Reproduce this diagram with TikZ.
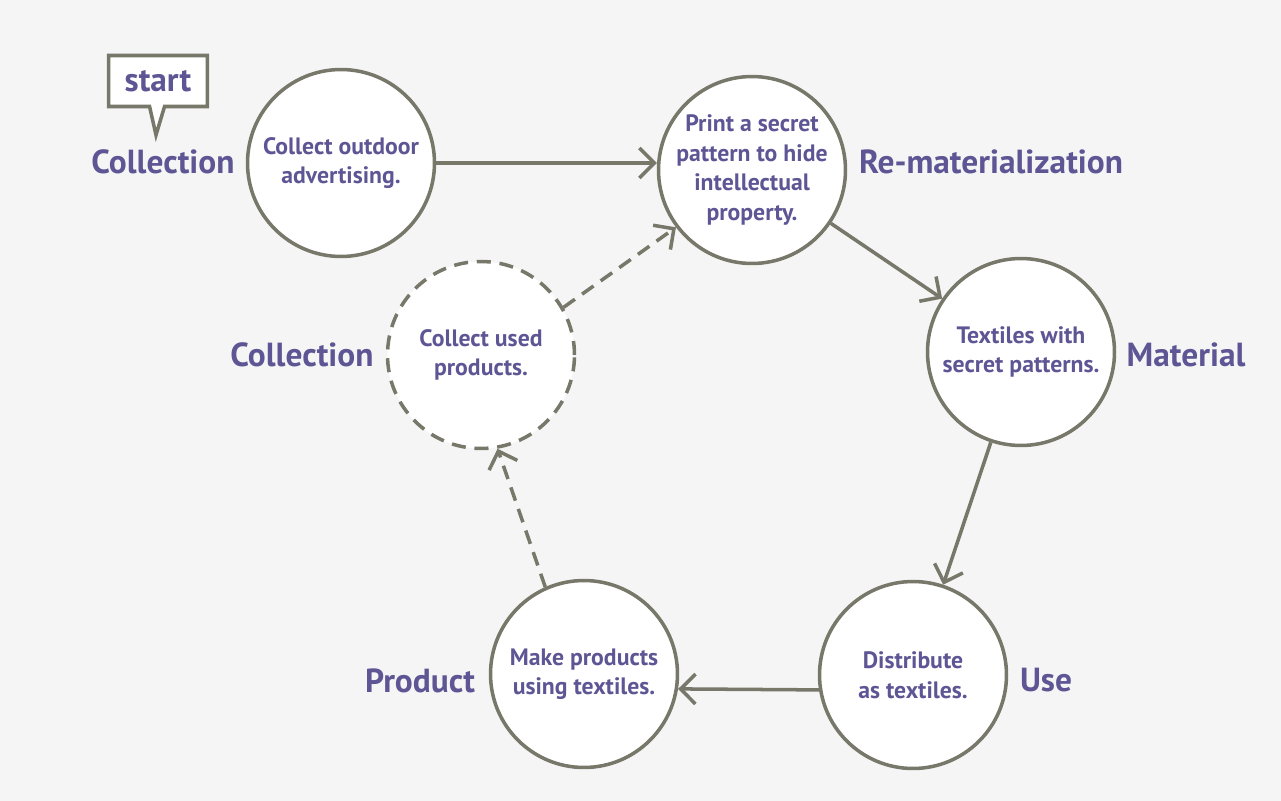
\documentclass[tikz,border=0pt]{standalone}
\usepackage{fontspec}
\setmainfont{PT Sans}
\usetikzlibrary{arrows.meta,shapes.callouts}
\definecolor{bggray}{HTML}{F5F5F5}
\definecolor{linegray}{HTML}{77776A}
\definecolor{txtpurple}{HTML}{5E5594}
\begin{document}
\begin{tikzpicture}[x=0.02cm,y=-0.02cm,
  stepcircle/.style={circle, draw=linegray, fill=white, line width=2pt, minimum size=3.74cm, inner sep=0pt, align=center, text=txtpurple, font=\fontsize{13.5}{16.8}\selectfont\bfseries},
  lbl/.style={text=txtpurple, font=\fontsize{19}{21}\selectfont\bfseries},
  flow/.style={draw=linegray, line width=2pt, -{Straight Barb[length=8.5pt,width=17pt]}},
  dashline/.style={dash pattern=on 8pt off 5pt}]
\fill[bggray] (0,0) rectangle (1281,801);
\useasboundingbox (0,0) rectangle (1281,801);
\node[stepcircle] (c1) at (341, 163) {Collect outdoor\\advertising.};
\node[stepcircle] (c2) at (752, 170) {Print a secret\\pattern to hide\\intellectual\\property.};
\node[stepcircle] (c3) at (1021, 352) {Textiles with\\secret patterns.};
\node[stepcircle] (c4) at (913, 675) {Distribute\\as textiles.};
\node[stepcircle] (c5) at (584, 674) {Make products\\using textiles.};
\node[stepcircle, dashline] (c6) at (481, 355) {Collect used\\products.};
\node[lbl] (l1) at (163, 162) {Collection};
\node[lbl] (l2) at (991, 162) {Re-materialization};
\node[lbl] (l3) at (1186, 355) {Material};
\node[lbl] (l4) at (1046, 680) {Use};
\node[lbl] (l5) at (420, 681) {Product};
\node[lbl] (l6) at (302, 355) {Collection};
\node[rectangle callout, draw=linegray, fill=white, line width=2pt, minimum width=1.98cm, minimum height=1.02cm, callout absolute pointer={(156,135)}, callout pointer width=0.3cm, text=txtpurple, font=\fontsize{19}{21}\selectfont\bfseries] (st) at (158, 81) {start};
\draw[flow] (c1.east) -- (c2.west |- c1.east);
\draw[flow] (c2) -- (c3);
\draw[flow] (c3) -- (c4);
\draw[flow] (c4.189) -- (c5.-9);
\draw[flow, dashline] (c5.114) -- (c6.-80);
\draw[flow, dashline] (c6.30) -- (c2.217);
\end{tikzpicture}
\end{document}
